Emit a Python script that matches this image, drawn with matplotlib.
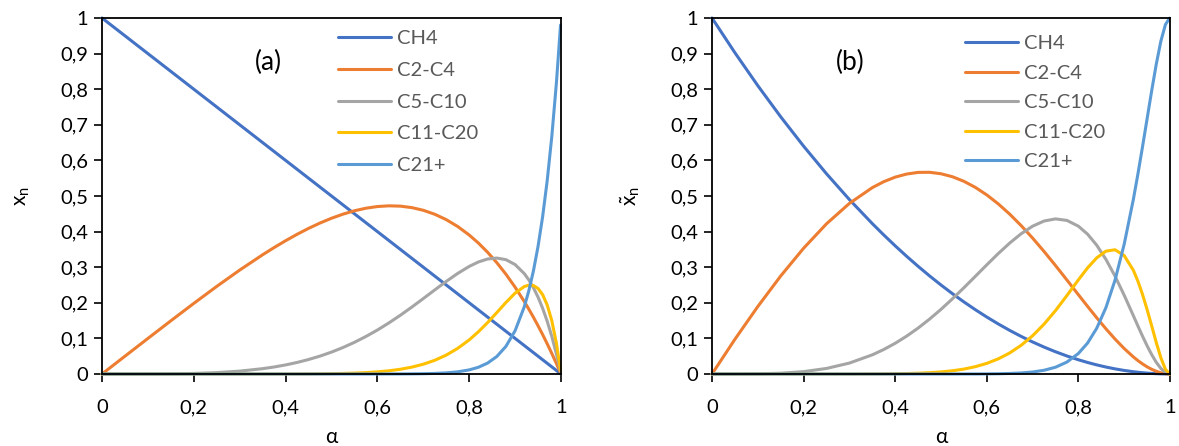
import matplotlib
matplotlib.use("Agg")
import matplotlib.pyplot as plt
from matplotlib.ticker import FuncFormatter

plt.rcParams['font.family'] = ['Lato', 'DejaVu Sans']
plt.rcParams['mathtext.fontset'] = 'custom'
plt.rcParams['mathtext.rm'] = 'Lato'
plt.rcParams['mathtext.it'] = 'Lato'

# chain growth probability (x axis)
alpha = [0, 0.05, 0.1, 0.15, 0.2, 0.25, 0.3, 0.35, 0.375, 0.4, 0.425, 0.45, 0.475,
         0.5, 0.525, 0.55, 0.575, 0.6, 0.625, 0.65, 0.675, 0.7, 0.725, 0.75, 0.775,
         0.8, 0.82, 0.84, 0.86, 0.88, 0.9, 0.92, 0.93, 0.94, 0.95, 0.96, 0.97,
         0.98, 0.99, 0.999]

labels = ['CH4', 'C2-C4', 'C5-C10', 'C11-C20', 'C21+']
colors = ['#4472C4', '#ED7D31', '#A5A5A5', '#FFC000', '#5B9BD5']

# (a) mole fractions
a_ch4 = [1, 0.95, 0.9, 0.85, 0.8, 0.75, 0.7, 0.65, 0.625, 0.6, 0.575, 0.55, 0.525,
         0.5, 0.475, 0.45, 0.425, 0.4, 0.375, 0.35, 0.325, 0.3, 0.275, 0.25, 0.225,
         0.2, 0.18, 0.16, 0.14, 0.12, 0.1, 0.08, 0.07, 0.06, 0.05, 0.04, 0.03,
         0.02, 0.01, 0.001]
a_c2c4 = [0, 0.05, 0.0999, 0.1495, 0.1984, 0.2461, 0.2919, 0.335, 0.3552, 0.3744,
          0.3924, 0.409, 0.4241, 0.4375, 0.449, 0.4585, 0.4657, 0.4704, 0.4724,
          0.4715, 0.4674, 0.4599, 0.4487, 0.4336, 0.4143, 0.3904, 0.3679, 0.3421,
          0.313, 0.2803, 0.2439, 0.2036, 0.1819, 0.1593, 0.1355, 0.1107, 0.0847,
          0.0576, 0.0294, 0.003]
a_c5c10 = [0, 0, 0.0001, 0.0005, 0.0016, 0.0039, 0.0081, 0.015, 0.0197, 0.0255,
           0.0324, 0.0407, 0.0503, 0.0615, 0.0744, 0.089, 0.1054, 0.1235, 0.1435,
           0.165, 0.188, 0.2119, 0.2362, 0.2601, 0.2826, 0.3022, 0.3147, 0.323,
           0.3257, 0.3212, 0.3074, 0.282, 0.2641, 0.2421, 0.2158, 0.1845, 0.1479,
           0.1053, 0.0562, 0.006]
a_c11c20 = [0, 0, 0, 0, 0, 0, 0, 0, 0.0001, 0.0001, 0.0002, 0.0003, 0.0006, 0.001,
            0.0016, 0.0025, 0.0039, 0.006, 0.009, 0.0133, 0.0193, 0.0275, 0.0385,
            0.0531, 0.0721, 0.0958, 0.1186, 0.1443, 0.1723, 0.2009, 0.2271, 0.2457,
            0.2497, 0.2485, 0.2403, 0.2228, 0.1936, 0.1495, 0.0865, 0.0098]
a_c21 = [0, 0, 0, 0, 0, 0, 0, 0, 0, 0, 0, 0, 0, 0, 0, 0, 0, 0, 0.0001, 0.0002,
         0.0004, 0.0008, 0.0016, 0.0032, 0.0061, 0.0115, 0.0189, 0.0306, 0.049,
         0.0776, 0.1216, 0.1887, 0.2342, 0.2901, 0.3585, 0.442, 0.5438, 0.6676,
         0.8179, 0.9802]

# (b) weight fractions
b_ch4 = [1, 0.9025, 0.81, 0.7225, 0.64, 0.5625, 0.49, 0.4225, 0.3906, 0.36, 0.3306,
         0.3025, 0.2756, 0.25, 0.2256, 0.2025, 0.1806, 0.16, 0.1406, 0.1225, 0.1056,
         0.09, 0.0756, 0.0625, 0.0506, 0.04, 0.0324, 0.0256, 0.0196, 0.0144, 0.01,
         0.0064, 0.0049, 0.0036, 0.0025, 0.0016, 0.0009, 0.0004, 0.0001, 0]
b_c2c4 = [0, 0.0975, 0.1895, 0.2753, 0.3533, 0.4219, 0.4792, 0.5235, 0.5402, 0.553,
          0.5617, 0.5663, 0.5666, 0.5625, 0.5541, 0.5413, 0.5242, 0.503, 0.4779,
          0.4491, 0.4169, 0.3818, 0.3442, 0.3047, 0.2639, 0.2227, 0.19, 0.1579,
          0.1271, 0.0981, 0.0715, 0.048, 0.0376, 0.0283, 0.0201, 0.0132, 0.0076,
          0.0034, 0.0009, 0]
b_c5c10 = [0, 0, 0.0005, 0.0022, 0.0067, 0.0156, 0.0307, 0.0538, 0.0688, 0.0863,
           0.1064, 0.129, 0.1542, 0.1816, 0.2112, 0.2423, 0.2744, 0.3067, 0.3383,
           0.3678, 0.394, 0.4152, 0.4297, 0.4357, 0.4314, 0.4152, 0.3928, 0.3618,
           0.3222, 0.2749, 0.2212, 0.1638, 0.1347, 0.1063, 0.0793, 0.0545, 0.0329,
           0.0157, 0.0042, 0]
b_c11c20 = [0, 0, 0, 0, 0, 0, 0, 0.0002, 0.0004, 0.0007, 0.0013, 0.0022, 0.0037,
            0.0059, 0.0091, 0.0138, 0.0206, 0.0299, 0.0425, 0.0591, 0.0806, 0.1074,
            0.14, 0.1781, 0.2205, 0.2645, 0.298, 0.3263, 0.345, 0.349, 0.3326,
            0.2913, 0.2606, 0.2235, 0.1811, 0.1352, 0.0886, 0.0458, 0.0133, 0]
b_c21 = [0, 0, 0, 0, 0, 0, 0, 0, 0, 0, 0, 0, 0, 0, 0, 0.0001, 0.0001, 0.0003,
         0.0007, 0.0015, 0.0029, 0.0056, 0.0105, 0.019, 0.0336, 0.0577, 0.0869,
         0.1285, 0.1861, 0.2637, 0.3647, 0.4905, 0.5622, 0.6383, 0.717, 0.7956,
         0.8701, 0.9347, 0.9815, 0.9996]

panels = [
    ([a_ch4, a_c2c4, a_c5c10, a_c11c20, a_c21], '(a)', r'$\mathregular{x_n}$'),
    ([b_ch4, b_c2c4, b_c5c10, b_c11c20, b_c21], '(b)', r'$\mathregular{\tilde{x}_n}$'),
]

fig = plt.figure(figsize=(11.79, 4.46), dpi=100)
W, H = 1179, 446
boxes = [(102, 18, 561, 374), (712, 18, 1170, 374)]
leg_x = [338, 965]
leg_y = [30, 35]
leg_sp = [0.73, 0.62]
tag_x = [268, 850]

comma = FuncFormatter(lambda v, p: ('%g' % round(v, 2)).replace('.', ','))

for (series, tag, ylab), (x0, y0, x1, y1), lx, ly, ls, tx in zip(
        panels, boxes, leg_x, leg_y, leg_sp, tag_x):
    ax = fig.add_axes([x0 / W, 1 - y1 / H, (x1 - x0) / W, (y1 - y0) / H])
    for vals, lab, col in zip(series, labels, colors):
        ax.plot(alpha, vals, color=col, lw=2.2, label=lab, clip_on=False,
                solid_capstyle='round')
    ax.set_xlim(0, 1)
    ax.set_ylim(0, 1)
    ax.set_xticks([0, 0.2, 0.4, 0.6, 0.8, 1])
    ax.set_yticks([i / 10 for i in range(11)])
    ax.xaxis.set_major_formatter(comma)
    ax.yaxis.set_major_formatter(comma)
    ax.tick_params(direction='out', length=6, width=1.2, labelsize=14.5, pad=4,
                   color='black')
    ax.tick_params(axis='x', pad=12)
    for s in ax.spines.values():
        s.set_linewidth(1.3)
        s.set_color('black')
    ax.set_xlabel('α', fontsize=15, labelpad=8)
    ax.set_ylabel(ylab, fontsize=15, labelpad=20)
    ax.text((tx - x0) / (x1 - x0), (y1 - 62) / (y1 - y0), tag, transform=ax.transAxes,
            ha='center', va='center', fontsize=19)
    leg = ax.legend(loc='upper left',
                    bbox_to_anchor=((lx - x0) / (x1 - x0), (y1 - ly) / (y1 - y0)),
                    frameon=False, fontsize=14.5, handlelength=2.65, handletextpad=0.3,
                    labelspacing=ls, borderpad=0, borderaxespad=0)
    for t in leg.get_texts():
        t.set_color('#595959')

fig.savefig('out.png', dpi=100)
